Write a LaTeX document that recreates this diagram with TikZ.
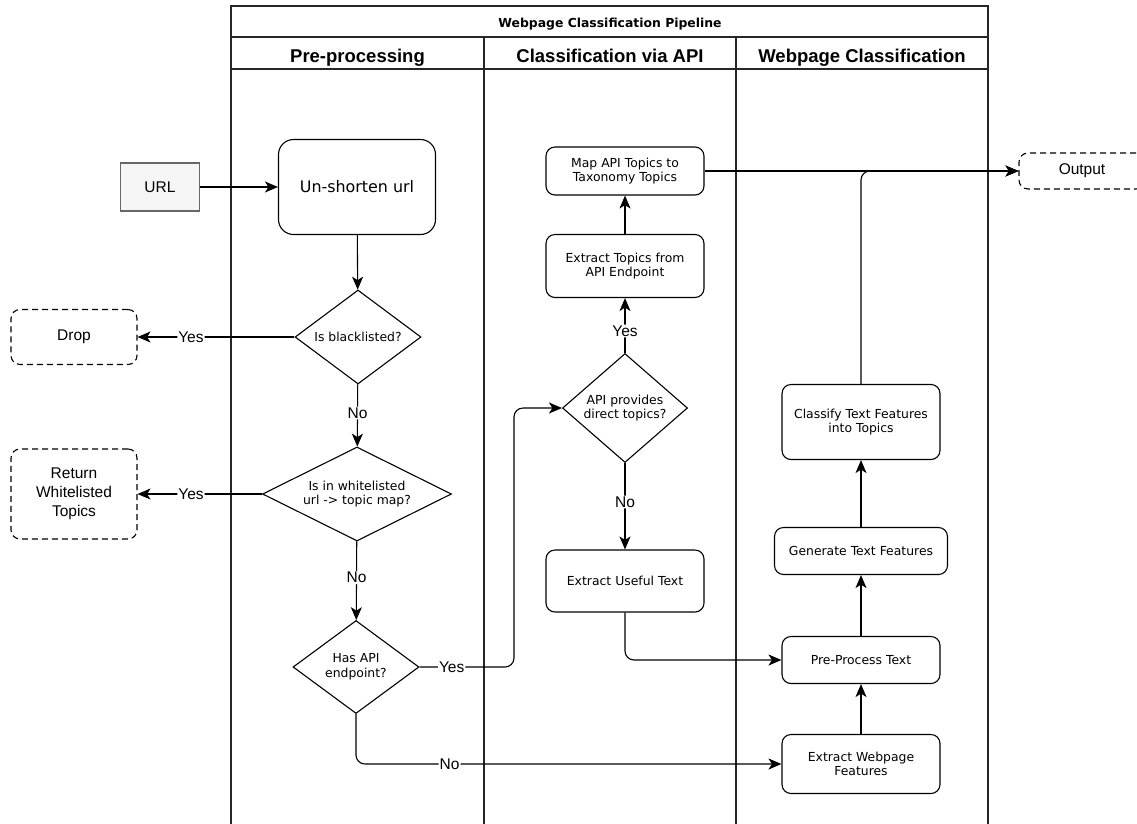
\documentclass[tikz,border=0pt]{standalone}
\usepackage{fontspec}
\setmainfont{Liberation Sans}
\newfontfamily\stepfont{DejaVu Sans}
\usepackage{tikz}
\usetikzlibrary{arrows.meta,positioning,shapes.geometric}
\definecolor{urlfill}{HTML}{F5F5F5}
\definecolor{urlline}{HTML}{666666}

\begin{document}
\begin{tikzpicture}[x=1pt, y=-1pt,
  font=\fontsize{15.5}{19}\selectfont,
  lane/.style={draw=black!85, line width=1.1pt},
  stepbox/.style={draw, rounded corners=9pt, align=center, line width=1.1pt, inner sep=2pt,
    font=\stepfont\fontsize{12.4}{14.5}\selectfont},
  decision/.style={draw, diamond, align=center, inner sep=0pt, line width=1.1pt,
    font=\stepfont\fontsize{12.4}{14.5}\selectfont},
  endbox/.style={draw, rounded corners=9pt, align=center, line width=1.1pt, dash pattern=on 6pt off 4pt},
  lanehead/.style={anchor=base, font=\bfseries\fontsize{18.5}{20}\selectfont},
  lbl/.style={fill=white, inner sep=1pt},
  arr/.style={-{Stealth[length=13pt, width=11pt, inset=3.5pt]}, line width=1.1pt, rounded corners=9pt}]
  \useasboundingbox (0,0) rectangle (1137,823);

  \draw[lane] (231,850) -- (231,6) -- (988,6) -- (988,850);
  \draw[lane] (231,37) -- (988,37);
  \draw[lane] (231,69) -- (988,69);
  \foreach \x in {484,736} \draw[lane] (\x,37) -- (\x,850);
  \node[anchor=base, font=\stepfont\bfseries\fontsize{12.4}{14}\selectfont] (title) at (610,27.5) {Webpage Classification Pipeline};
  \node[lanehead] (hpre) at (357.5,62) {Pre-processing};
  \node[lanehead] (hapi) at (610,62) {Classification via API};
  \node[lanehead] (hweb) at (862,62) {Webpage Classification};

  \node[draw=urlline, fill=urlfill, line width=1.1pt, minimum width=79pt, minimum height=48pt] (url) at (160,187) {URL};
  \node[stepbox, minimum width=157pt, minimum height=95pt, rounded corners=15pt,
    font=\stepfont\fontsize{15.9}{18}\selectfont] (unshort) at (357,187) {Un-shorten url};
  \node[decision, aspect=1.34, minimum width=126pt, minimum height=94pt] (black) at (358,337) {Is blacklisted?};
  \node[endbox, minimum width=126pt, minimum height=55pt] (drop) at (74,337) {Drop};
  \node[decision, aspect=2, minimum width=189pt, minimum height=94pt] (white) at (357,494) {Is in whitelisted\\url -> topic map?};
  \node[endbox, minimum width=126pt, minimum height=90pt] (ret) at (74,494) {Return\\Whitelisted\\Topics};
  \node[decision, aspect=1.34, minimum width=126pt, minimum height=93pt] (hasapi) at (356,667) {Has API\\endpoint?};

  \node[stepbox, minimum width=158pt, minimum height=48pt] (mapapi) at (625,171) {Map API Topics to\\Taxonomy Topics};
  \node[stepbox, minimum width=158pt, minimum height=63pt] (extopics) at (625,266) {Extract Topics from\\API Endpoint};
  \node[decision, aspect=1.15, minimum width=125pt, minimum height=109pt] (apiprov) at (625,408) {API provides\\direct topics?};
  \node[stepbox, minimum width=158pt, minimum height=62pt] (useful) at (625,581) {Extract Useful Text};

  \node[stepbox, minimum width=158pt, minimum height=75pt] (classify) at (861,422) {Classify Text Features\\into Topics};
  \node[stepbox, minimum width=173pt, minimum height=47pt] (gentext) at (861,551) {Generate Text Features};
  \node[stepbox, minimum width=158pt, minimum height=47pt] (preproc) at (861,660) {Pre-Process Text};
  \node[stepbox, minimum width=158pt, minimum height=59pt] (exweb) at (861,764) {Extract Webpage\\Features};
  \node[endbox, minimum width=126pt, minimum height=36pt] (output) at (1082,171) {Output};
  \coordinate (apibend) at (514,408);

  \draw[arr] (url) -- (unshort);
  \draw[arr] (unshort) -- (black);
  \draw[arr] (black) -- node[lbl, pos=0.66] {Yes} (drop);
  \draw[arr] (black) -- node[lbl, pos=0.46] {No} (white);
  \draw[arr] (white) -- node[lbl, pos=0.57] {Yes} (ret);
  \draw[arr] (white) -- node[lbl, pos=0.46] {No} (hasapi);
  \draw[arr] (hasapi.east) -| node[lbl, pos=0.17] {Yes} (apibend) -- (apiprov.west);
  \draw[arr] (hasapi.south) |- node[lbl, pos=0.61] {No} (exweb.west);
  \draw[arr] (apiprov) -- node[lbl, pos=0.4] {Yes} (extopics);
  \draw[arr] (extopics) -- (mapapi);
  \draw[arr] (apiprov) -- node[lbl, pos=0.45] {No} (useful);
  \draw[arr] (mapapi) -- (output);
  \draw[arr] (useful.south) |- (preproc.west);
  \draw[arr] (exweb) -- (preproc);
  \draw[arr] (preproc) -- (gentext);
  \draw[arr] (gentext) -- (classify);
  \draw[arr] (classify.north) |- (output.west);
\end{tikzpicture}
\end{document}
